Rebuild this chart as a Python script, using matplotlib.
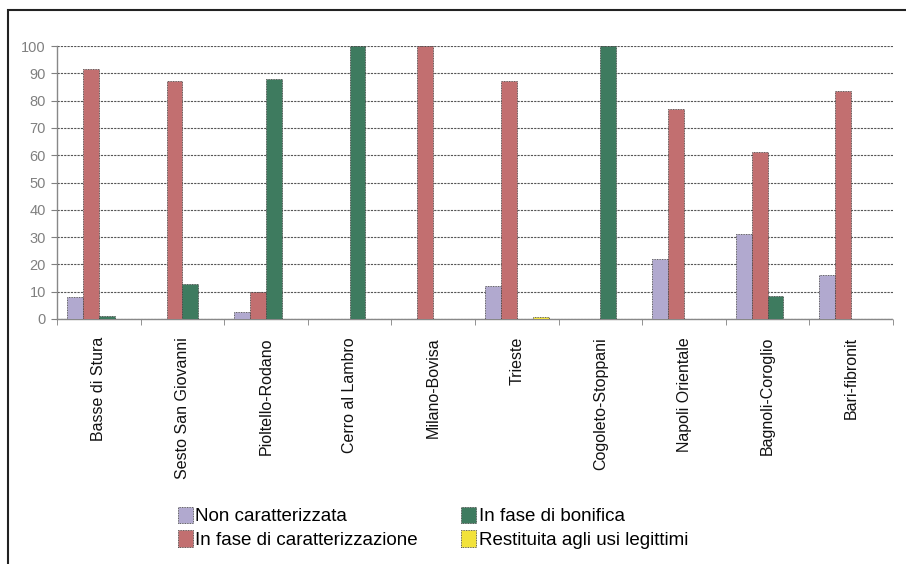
import matplotlib
matplotlib.use("Agg")
import matplotlib.pyplot as plt
import numpy as np
from matplotlib.patches import Rectangle

categories = ["Basse di Stura", "Sesto San Giovanni", "Pioltello-Rodano", "Cerro al Lambro",
              "Milano-Bovisa", "Trieste", "Cogoleto-Stoppani", "Napoli Orientale",
              "Bagnoli-Coroglio", "Bari-fibronit"]
non_caratterizzata = [8, 0, 2.5, 0, 0, 12, 0, 22, 31, 16]
in_caratterizzazione = [91.5, 87, 10, 0, 100, 87, 0, 77, 61, 83.5]
in_bonifica = [1, 13, 88, 100, 0, 0, 100, 0, 8.5, 0]
restituita = [0, 0, 0, 0, 0, 0.8, 0, 0, 0, 0]
series_names = ["Non caratterizzata", "In fase di caratterizzazione",
                "In fase di bonifica", "Restituita agli usi legittimi"]
y_ticks = [0, 10, 20, 30, 40, 50, 60, 70, 80, 90, 100]

colors = ["#b1a9cf", "#c26f70", "#3e7b5f", "#f2e23a"]

plt.rcParams['font.family'] = ['Liberation Sans', 'DejaVu Sans']

fig = plt.figure(figsize=(9.06, 5.64), dpi=100)
ax = fig.add_axes([57/906, 1-319/564, (893-57)/906, (319-46)/564])

x = np.arange(len(categories))
w = 0.19
data = [non_caratterizzata, in_caratterizzazione, in_bonifica, restituita]
handles = []
for k, (vals, c, name) in enumerate(zip(data, colors, series_names)):
    b = ax.bar(x + (k - 1.5) * w, vals, width=w, color=c, edgecolor="#3a3a3a",
               linewidth=0.6, linestyle=(0, (1, 1)), label=name, zorder=3)
    handles.append(b)

ax.set_xlim(-0.5, len(categories) - 0.5)
ax.set_ylim(0, 100)
ax.set_yticks(y_ticks)
ax.set_yticklabels([str(v) for v in y_ticks], color="#808080", fontsize=10.5)
ax.yaxis.grid(True, color="#555555", linestyle=(0, (2, 1)), linewidth=0.8, zorder=0)
ax.set_axisbelow(True)

ax.set_xticks(x)
ax.set_xticklabels(categories, rotation=90, fontsize=11.5, color="#111111", va="top")
ax.tick_params(axis="x", length=0, pad=13)
ax.set_xticks(np.arange(len(categories) + 1) - 0.5, minor=True)
ax.tick_params(axis="x", which="minor", length=4, color="#808080", direction="out")
ax.tick_params(axis="y", length=4, color="#808080", direction="out", pad=4)

for s in ["top", "right"]:
    ax.spines[s].set_visible(False)
for s in ["left", "bottom"]:
    ax.spines[s].set_color("#888888")
    ax.spines[s].set_linestyle((0, (1, 1)))
    ax.spines[s].set_linewidth(1.0)

order = [0, 1, 2, 3]
leg = fig.legend([handles[i] for i in order], [series_names[i] for i in order],
                 ncol=2, loc="upper left", bbox_to_anchor=(170/906, 1-499/564),
                 frameon=False, fontsize=13.5, handlelength=0.8, handleheight=1.0,
                 handletextpad=0.15, columnspacing=2.3, labelspacing=0.25,
                 borderaxespad=0)

fig.patches.append(Rectangle((8/906, -0.01), 1.0, 1-10/564 + 0.01, transform=fig.transFigure,
                             fill=False, edgecolor="#222222", linewidth=1.5, zorder=10))

fig.savefig("out.png", dpi=100)
